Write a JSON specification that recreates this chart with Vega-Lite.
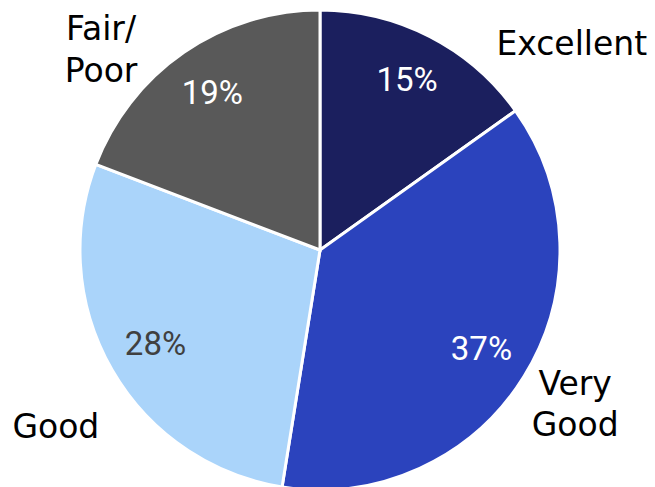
{
  "$schema": "https://vega.github.io/schema/vega-lite/v6.json",
  "width": 640,
  "height": 474,
  "autosize": "none",
  "padding": {"left": 0, "right": 15, "top": 13, "bottom": 0},
  "background": "white",
  "view": {"stroke": null},
  "config": {"text": {"lineBreak": "\n"}},
  "data": {
    "values": [
      {"category": "Excellent", "label": "Excellent", "pct": "15%", "value": 15, "ord": 1},
      {"category": "Very Good", "label": "Very\nGood", "pct": "37%", "value": 37, "ord": 2},
      {"category": "Good", "label": "Good", "pct": "28%", "value": 28, "ord": 3},
      {"category": "Fair/Poor", "label": "Fair/\nPoor", "pct": "19%", "value": 19, "ord": 4}
    ]
  },
  "encoding": {
    "theta": {"field": "value", "type": "quantitative", "stack": true},
    "order": {"field": "ord", "type": "quantitative"}
  },
  "layer": [
    {
      "mark": {"type": "arc", "outerRadius": 240, "stroke": "white", "strokeWidth": 3},
      "encoding": {
        "color": {
          "field": "category",
          "type": "nominal",
          "scale": {
            "domain": ["Excellent", "Very Good", "Good", "Fair/Poor"],
            "range": ["#1b1f5e", "#2b43bd", "#aad4fa", "#595959"]
          },
          "legend": null
        }
      }
    },
    {
      "mark": {"type": "text", "radius": 190, "font": "Roboto", "fontSize": 33},
      "encoding": {
        "text": {"field": "pct"},
        "color": {
          "condition": {"test": "datum.category === 'Good'", "value": "#404040"},
          "value": "#ffffff"
        }
      }
    },
    {
      "mark": {"type": "text", "radius": 305, "font": "DejaVu Sans", "fontSize": 33, "color": "black", "dx": 112, "dy": 66},
      "encoding": {"text": {"condition": {"test": "datum.category === 'Excellent'", "field": "label"}, "value": ""}}
    },
    {
      "mark": {"type": "text", "radius": 305, "font": "DejaVu Sans", "fontSize": 33, "lineHeight": 41, "color": "black", "dx": -4, "dy": -26},
      "encoding": {"text": {"condition": {"test": "datum.category === 'Very Good'", "field": "label"}, "value": ""}}
    },
    {
      "mark": {"type": "text", "radius": 305, "font": "DejaVu Sans", "fontSize": 33, "color": "black", "dx": 0, "dy": 25},
      "encoding": {"text": {"condition": {"test": "datum.category === 'Good'", "field": "label"}, "value": ""}}
    },
    {
      "mark": {"type": "text", "radius": 305, "font": "DejaVu Sans", "fontSize": 33, "lineHeight": 42, "color": "black", "dx": -46, "dy": 31},
      "encoding": {"text": {"condition": {"test": "datum.category === 'Fair/Poor'", "field": "label"}, "value": ""}}
    }
  ]
}
